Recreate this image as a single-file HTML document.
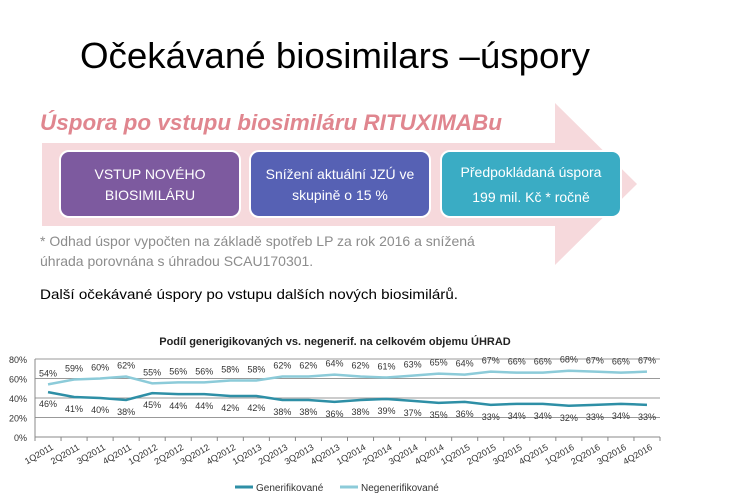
<!DOCTYPE html>
<html><head><meta charset="utf-8"><style>
body{margin:0;background:#fff;width:750px;height:502px;overflow:hidden;font-family:"Liberation Sans",sans-serif}
svg{display:block}
</style></head><body>
<svg width="750" height="502" viewBox="0 0 750 502">
<text x="80" y="68" font-size="36" textLength="510" lengthAdjust="spacingAndGlyphs" fill="#000">Očekávané biosimilars –úspory</text>
<polygon points="42,143 555,143 555,103 637,184 555,265 555,226 42,226" fill="#f6d9dc"/>
<text x="40" y="130" font-size="22" font-style="italic" font-weight="bold" fill="#e0868f" textLength="462" lengthAdjust="spacingAndGlyphs">Úspora po vstupu biosimiláru RITUXIMABu</text>
<g>
<rect x="60" y="151" width="180" height="66" rx="9" fill="#7d5a9f" stroke="#fff" stroke-width="2"/>
<text x="150" y="179" font-size="14" fill="#fff" text-anchor="middle">VSTUP NOVÉHO</text>
<text x="150" y="200" font-size="14" fill="#fff" text-anchor="middle">BIOSIMILÁRU</text></g>
<g>
<rect x="250" y="151" width="180" height="66" rx="9" fill="#5661b4" stroke="#fff" stroke-width="2"/>
<text x="340" y="179" font-size="14" fill="#fff" text-anchor="middle">Snížení aktuální JZÚ ve</text>
<text x="340" y="200" font-size="14" fill="#fff" text-anchor="middle">skupině o 15 %</text></g>
<g>
<rect x="441" y="151" width="180" height="66" rx="9" fill="#3aacc4" stroke="#fff" stroke-width="2"/>
<text x="531" y="177" font-size="14" fill="#fff" text-anchor="middle">Předpokládaná úspora</text>
<text x="531" y="202" font-size="14" fill="#fff" text-anchor="middle">199 mil. Kč * ročně</text></g>
<text font-size="14" fill="#8c8c8c"><tspan x="40" y="246">* Odhad úspor vypočten na základě spotřeb LP za rok 2016 a snížená</tspan><tspan x="40" y="266">úhrada porovnána s úhradou SCAU170301.</tspan></text>
<text x="40" y="299" font-size="14" fill="#000" textLength="418" lengthAdjust="spacingAndGlyphs">Další očekávané úspory po vstupu dalších nových biosimilárů.</text>
<text x="335" y="345" font-size="11" font-weight="bold" fill="#222" text-anchor="middle">Podíl generigikovaných vs. negenerif. na celkovém objemu ÚHRAD</text>
<g id="chart"></g>
<g>
<line x1="235" y1="487" x2="253" y2="487" stroke="#2e8fa6" stroke-width="3"/>
<text x="256" y="491" font-size="10" fill="#333">Generifikované</text>
<line x1="340" y1="487" x2="358" y2="487" stroke="#8ccbd9" stroke-width="3"/>
<text x="361" y="491" font-size="10" fill="#333">Negenerifikované</text></g>
</svg>
<script>
const categories=["1Q2011","2Q2011","3Q2011","4Q2011","1Q2012","2Q2012","3Q2012","4Q2012","1Q2013","2Q2013","3Q2013","4Q2013","1Q2014","2Q2014","3Q2014","4Q2014","1Q2015","2Q2015","3Q2015","4Q2015","1Q2016","2Q2016","3Q2016","4Q2016"];
const generic=[46,41,40,38,45,44,44,42,42,38,38,36,38,39,37,35,36,33,34,34,32,33,34,33];
const nongeneric=[54,59,60,62,55,56,56,58,58,62,62,64,62,61,63,65,64,67,66,66,68,67,66,67];
const yTicks=[0,20,40,60,80];
const NS="http://www.w3.org/2000/svg";
const g=document.getElementById('chart');
const x0=35,x1=660,y0=437,y1=359;
const step=(x1-x0)/categories.length;
const X=i=>x0+step*(i+0.5);
const Y=v=>y0-(v/80)*(y0-y1);
function mk(t,a){const e=document.createElementNS(NS,t);for(const k in a)e.setAttribute(k,a[k]);g.appendChild(e);return e;}
yTicks.forEach(v=>{
 const l=mk('line',{x1:x0,x2:x1,y1:Y(v),y2:Y(v),stroke:v?'#999':'#888','stroke-width':1});
 
 
 const t=mk('text',{x:x0-8,y:Y(v)+4,'font-size':9,fill:'#333','text-anchor':'end'});
 t.textContent=v+'%';
 
 
});
mk('line',{x1:x0,x2:x0,y1:y1,y2:y0,stroke:'#888'});
categories.forEach((c,i)=>{
 mk('line',{x1:x0+step*i,x2:x0+step*i,y1:y0,y2:y0+4,stroke:'#888'});
 const t=mk('text',{transform:`translate(${X(i)+6},${y0+12}) rotate(-30)`,'font-size':9,fill:'#333','text-anchor':'end'});
 t.textContent=c;
 
 
});
mk('line',{x1:x1,x2:x1,y1:y0,y2:y0+4,stroke:'#888'});
function series(vals,color,name,off){
 const p=mk('polyline',{points:vals.map((v,i)=>X(i)+','+Y(v)).join(' '),fill:'none',stroke:color,'stroke-width':2.5});
 
 
 vals.forEach((v,i)=>{
  const t=mk('text',{x:X(i),y:Y(v)+off,'font-size':9,fill:'#333','text-anchor':'middle'});
  t.textContent=v+'%';
  
  
 });
}
series(nongeneric,'#8ccbd9','nongeneric',-8);
series(generic,'#2e8fa6','generic',15);
</script>
</body></html>
